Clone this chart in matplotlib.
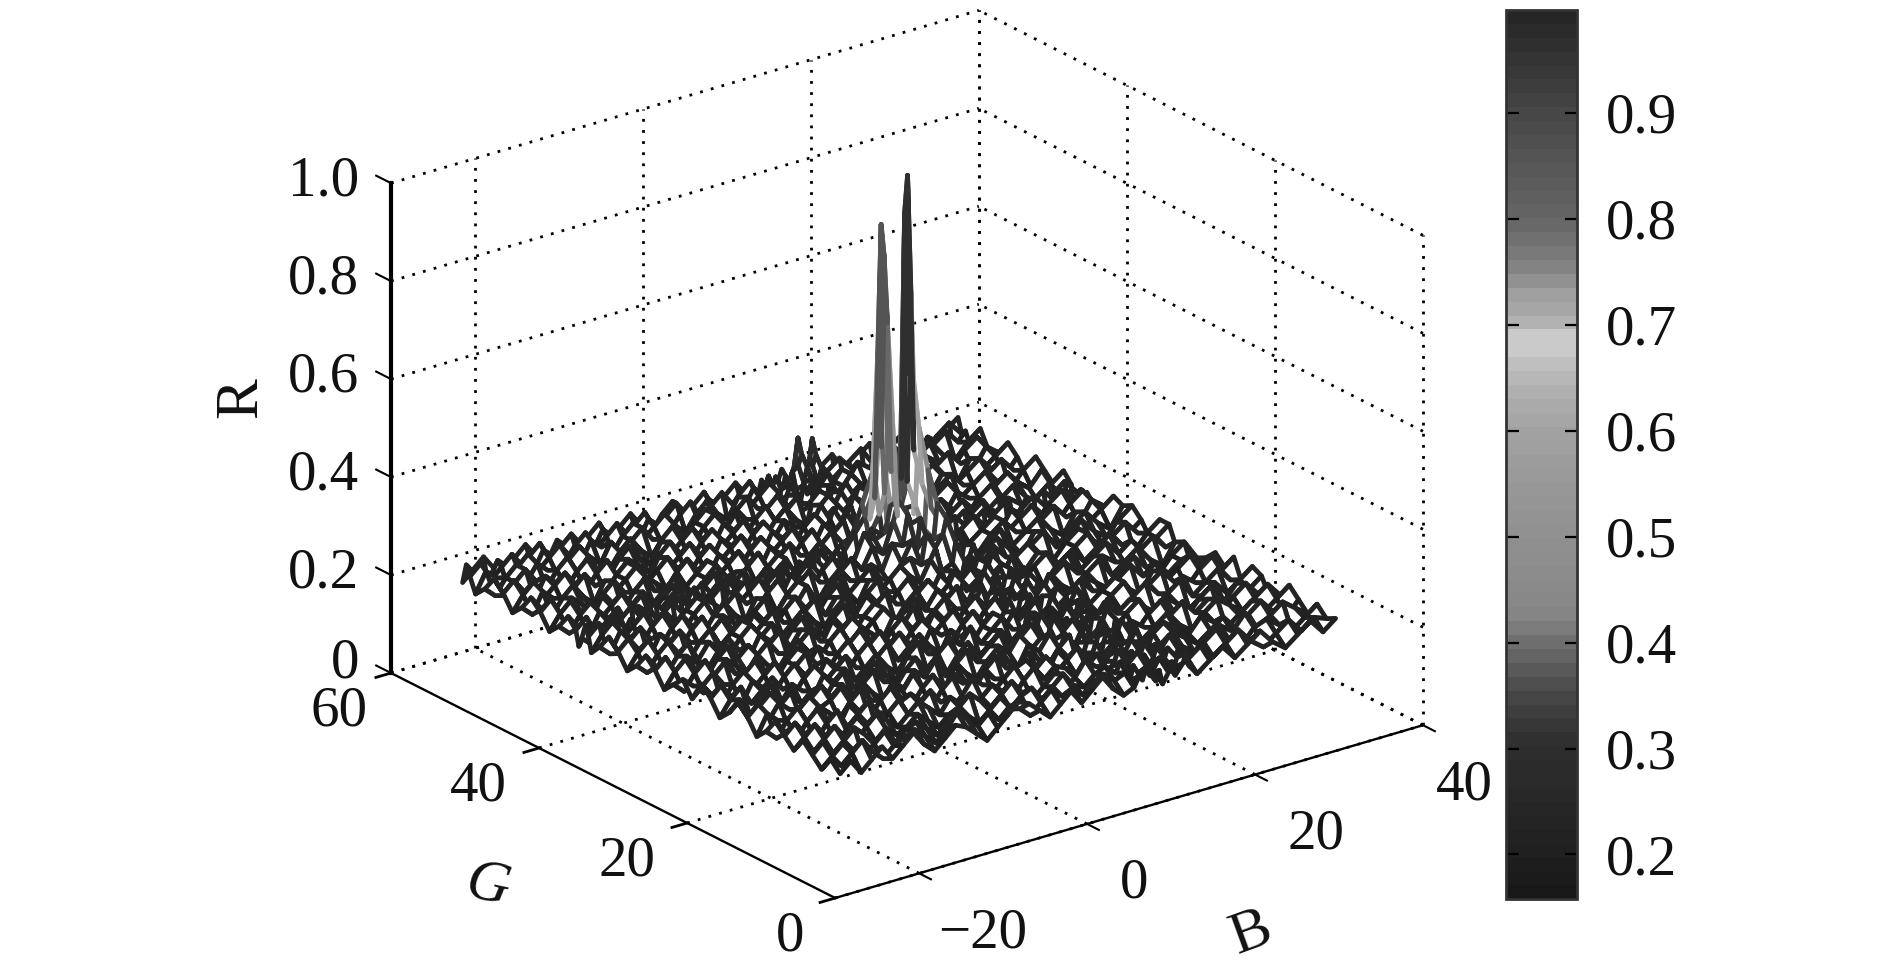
"""
Mesh of R over (B, G) with a grey colour bar.
"""

import numpy as np
import matplotlib
matplotlib.use("Agg")
import matplotlib.pyplot as plt
from matplotlib.cm import ScalarMappable
from matplotlib.colors import LinearSegmentedColormap, Normalize
from mpl_toolkits.mplot3d import proj3d

plt.rcParams['font.family'] = ['Liberation Serif', 'DejaVu Serif']

W, H = 1890, 976

b_ticks = [-20, 0, 20, 40]
g_ticks = [0, 20, 40, 60]
r_ticks = [0, 0.2, 0.4, 0.6, 0.8, 1.0]
r_tick_labels = ['0', '0.2', '0.4', '0.6', '0.8', '1.0']
bar_ticks = [0.2, 0.3, 0.4, 0.5, 0.6, 0.7, 0.8, 0.9]

# grid of the mesh, denser around the peaks
b_grid = [-25, -23.75, -22.5, -21.25, -20, -18.75, -17.5, -16.25, -15, -13.75, -12.5, -11.25,
          -10, -8.75, -7.5, -6.25, -5, -3.75, -2.5, -1.25, 0, 1.25, 2.5, 3.75, 5, 6.25, 7.5, 8.75, 10,
          10.6, 11, 11.4, 12.6, 13, 13.4, 14.1, 14.5, 14.9, 15.8, 16.2, 16.6,
          17.5, 19, 20.5, 22, 23.5, 25, 26.5, 28, 29.5, 31, 32.5, 34]
g_grid = [5, 6.25, 7.5, 8.75, 10, 11.25, 12.5, 13.75, 15, 16.25, 17.5, 18.75, 20, 21.25,
          22.5, 23.75, 25, 26.25, 27.5, 28.75, 30, 31.25, 32.5, 33.75, 35, 36.25, 37.5,
          38.6, 39, 39.4, 39.9, 40.3, 40.7,
          41.75, 43, 44.25, 45.5, 46.75, 48, 49.25, 50.5, 51.75, 53, 54.25, 55, 55.5, 56]

# R, in hundredths, one row per G value
r_percent = [
 [19,21,18,20,22,19,21,23,20,18,20,22,21,19,17,19,21,23,22,20,18,20,22,19,21,23,20,18,19, 21,20,22,19,21,18,20,22,19,21,23,20, 18,20,22,19,21,23,20,18,20,22,19,21],
 [21,19,21,23,20,18,20,21,22,20,18,20,23,21,19,21,19,21,20,18,20,22,20,21,19,21,22,20,21, 19,22,20,21,19,20,22,20,21,19,21,22, 20,22,19,21,23,20,18,20,22,19,21,20],
 [18,20,22,20,18,20,22,19,21,22,20,18,20,22,20,18,20,22,19,21,22,19,21,23,20,19,21,22,20, 22,19,21,23,20,22,19,21,23,20,22,19, 21,19,21,23,20,18,21,22,20,18,20,22],
 [20,22,19,21,23,21,19,21,19,20,22,20,18,20,21,23,21,19,21,23,20,18,20,22,18,20,23,21,19, 20,21,23,20,22,19,21,23,20,22,19,21, 23,20,18,21,22,20,23,19,21,23,21,19],
 [22,19,21,23,20,18,21,23,21,19,21,23,21,19,22,20,18,20,22,20,18,21,23,20,22,21,19,20,22, 18,20,21,23,19,21,23,20,22,19,21,23, 20,22,20,18,20,22,19,21,23,20,18,21],
 [19,21,23,20,18,20,22,20,18,21,23,19,21,23,20,18,20,23,21,19,21,23,19,21,23,19,21,23,20, 21,23,19,21,22,20,21,19,21,23,20,18, 21,23,21,19,22,20,18,20,22,19,21,23],
 [21,23,20,18,21,23,19,21,23,20,18,21,22,20,18,21,23,21,19,22,20,18,21,22,20,18,22,20,18, 20,22,20,18,21,23,19,22,20,18,21,23, 19,21,23,20,18,21,23,21,19,21,23,20],
 [23,20,18,21,23,20,18,22,20,18,21,23,20,18,21,23,19,22,20,18,21,23,20,18,22,20,18,21,23, 19,21,23,20,18,21,23,20,18,21,23,20, 22,20,18,21,23,20,22,18,21,23,20,18],
 [20,18,21,23,19,22,20,18,21,23,20,18,22,20,23,19,21,18,22,20,18,21,23,20,18,22,20,23,19, 22,20,18,21,23,20,18,21,23,20,18,22, 20,18,21,23,20,18,21,23,19,22,20,22],
 [18,22,20,18,21,23,20,21,23,19,22,20,18,21,19,22,20,23,19,21,23,20,18,22,20,23,19,21,18, 20,18,21,23,20,22,20,18,22,19,21,23, 18,21,23,19,22,20,18,20,22,19,21,23],
 [21,23,19,22,20,18,21,23,20,22,19,21,23,20,18,21,23,20,22,18,21,23,19,21,23,19,21,23,20, 18,21,23,19,22,18,21,23,20,22,19,21, 23,20,22,20,18,21,23,19,21,23,20,18],
 [23,19,21,23,20,22,19,21,18,21,23,19,21,23,20,18,22,20,18,21,23,19,21,18,20,22,19,21,23, 21,23,20,22,19,21,23,20,18,21,23,20, 18,22,19,21,23,20,18,22,20,18,21,23],
 [20,22,18,21,23,19,22,20,18,22,20,22,19,21,23,20,18,21,23,20,18,22,20,23,19,21,23,20,18, 23,19,22,20,18,22,19,21,23,20,18,22, 20,18,21,23,19,21,23,20,18,21,23,20],
 [18,21,23,19,21,23,20,18,21,23,19,21,23,20,18,21,23,19,21,23,20,18,22,20,18,21,23,19,22, 20,18,21,23,20,18,21,23,20,18,22,20, 23,19,21,23,20,18,22,19,21,23,20,22],
 [21,23,20,18,22,20,18,21,23,20,18,22,20,18,21,23,19,21,23,20,18,22,20,18,21,23,20,18,21, 23,20,18,21,23,20,18,22,19,21,23,19, 21,23,20,18,21,23,20,22,19,21,18,20],
 [23,20,18,21,23,19,21,23,19,21,23,20,18,21,23,19,21,23,20,18,21,23,19,21,23,20,18,21,23, 19,22,20,18,21,23,20,18,21,23,20,18, 21,19,22,20,18,21,23,20,18,21,23,19],
 [19,21,23,20,18,21,23,20,18,21,23,19,22,20,18,21,23,20,18,21,23,20,18,22,20,18,21,23,20, 18,21,23,19,22,20,18,21,23,20,22,19, 23,20,18,21,23,19,21,23,20,18,22,20],
 [22,20,18,21,23,20,18,22,20,18,21,23,20,18,21,23,19,22,20,18,22,20,23,19,21,23,20,18,21, 23,19,21,23,20,18,21,23,19,21,23,20, 18,21,23,20,18,22,20,18,21,23,20,18],
 [20,18,21,23,19,22,20,18,21,23,20,18,21,23,20,18,21,23,19,21,23,19,21,23,20,18,21,23,19, 21,23,20,18,21,23,19,22,20,18,21,23, 20,18,21,23,19,21,23,20,22,19,21,23],
 [18,21,23,20,18,21,23,20,22,19,21,23,19,22,20,18,22,20,18,21,23,20,18,21,23,19,22,20,18, 22,20,18,21,23,20,18,21,23,19,22,20, 18,21,23,20,22,19,21,23,20,18,21,23],
 [21,23,19,22,20,18,21,23,20,18,22,20,18,21,23,20,18,21,23,20,18,21,23,20,18,21,23,19,21, 23,19,21,23,20,18,21,23,20,18,22,20, 23,19,22,20,18,21,23,19,21,23,20,18],
 [23,20,18,21,23,19,22,20,18,21,23,20,22,19,21,23,20,18,21,23,19,22,20,18,21,23,20,18,22, 20,18,22,20,23,19,21,23,19,21,23,20, 18,21,23,20,18,21,23,20,18,22,19,21],
 [20,18,21,23,20,18,21,23,19,21,23,19,21,23,20,18,21,23,19,22,20,18,21,23,20,18,22,20,24, 26,23,21,22,26,24,20,18,22,20,18,21, 23,20,18,21,23,19,21,23,20,18,21,23],
 [18,21,23,19,21,23,20,18,21,23,20,18,22,20,18,21,23,20,18,21,23,20,18,22,19,21,23,24,22, 28,25,24,27,30,26,23,20,18,21,23,19, 21,23,20,18,22,20,18,21,23,20,18,22],
 [21,23,20,18,22,20,18,21,23,19,22,20,18,21,23,19,22,20,23,19,21,23,19,21,23,20,18,22,26, 24,30,27,25,32,28,21,23,20,18,22,20, 18,21,23,19,21,23,20,18,22,19,21,23],
 [23,19,21,23,20,18,21,23,20,18,21,23,20,18,22,20,18,21,23,20,18,21,23,20,18,22,20,25,24, 30,28,26,26,38,30,24,20,23,19,21,23, 20,18,21,23,20,18,21,23,20,18,22,20],
 [20,18,22,20,18,21,23,20,18,21,23,19,21,23,20,18,21,23,19,21,23,20,18,21,23,20,24,22,28, 32,26,30,30,46,34,25,22,18,21,23,20, 22,19,21,23,19,21,23,20,18,21,23,19],
 [18,21,23,19,21,23,20,22,19,21,23,20,18,22,19,21,23,20,18,22,20,18,21,23,19,21,26,24,25, 30,28,26,34,60,40,24,21,23,20,18,22, 19,21,23,20,18,22,20,18,21,23,19,21],
 [21,23,20,18,22,20,18,21,23,20,18,22,20,18,21,23,19,21,23,19,21,23,20,18,22,20,23,26,24, 26,30,28,45,96,72,30,23,20,18,21,23, 20,18,21,23,20,18,21,23,20,18,22,20],
 [23,19,21,23,19,21,23,19,21,23,20,18,21,23,20,18,21,23,20,18,22,20,18,21,23,19,21,24,28, 32,40,36,34,88,55,26,20,18,21,23,19, 21,23,20,18,21,23,19,21,23,20,18,21],
 [20,18,21,23,20,18,21,23,20,18,22,19,21,23,19,22,20,18,21,23,19,21,23,20,18,22,25,28,34, 50,80,66,26,42,30,24,23,20,18,22,20, 18,21,23,19,22,20,18,22,19,21,23,20],
 [18,22,20,18,21,23,20,18,21,23,20,23,19,21,23,20,18,21,23,20,18,22,20,18,21,23,24,30,36, 60,86,74,30,26,24,21,19,21,23,20,18, 21,23,20,18,21,23,20,18,21,23,20,18],
 [21,23,19,21,23,19,22,20,18,22,18,21,23,20,18,21,23,19,22,20,23,19,21,23,20,18,22,26,26, 30,52,40,26,24,21,23,20,18,21,23,19, 22,20,18,21,23,19,22,20,18,22,19,21],
 [23,20,18,22,20,18,21,23,19,21,23,20,18,21,23,19,22,20,18,21,23,20,18,21,23,20,18,22,24, 25,27,24,22,20,18,21,23,20,18,21,23, 20,18,21,23,20,18,21,23,20,18,21,23],
 [20,18,21,23,19,21,23,20,22,19,21,23,20,18,21,23,20,18,21,23,19,21,23,20,18,21,23,20,18, 21,23,20,18,21,23,19,21,23,20,18,22, 19,21,23,20,18,21,23,19,22,20,23,19],
 [18,21,23,20,18,22,20,18,21,23,20,18,22,19,21,23,19,21,23,20,18,22,20,18,21,23,19,21,23, 20,18,21,23,19,22,20,18,21,23,20,18, 21,23,20,18,22,20,18,21,23,20,18,21],
 [21,23,19,22,20,18,21,23,20,18,22,20,18,21,23,20,18,22,20,18,21,23,19,21,23,20,18,22,20, 18,21,23,20,18,21,23,20,18,22,19,21, 23,20,18,21,23,19,21,23,20,18,21,23],
 [23,20,18,21,23,20,18,22,19,21,23,19,21,23,20,18,21,23,19,21,23,20,18,22,20,18,21,23,19, 21,23,19,21,23,20,18,22,20,18,21,23, 20,18,22,19,21,23,20,18,21,23,20,18],
 [20,18,22,20,18,21,23,20,18,21,23,20,18,22,19,21,23,20,18,22,20,18,21,23,19,22,20,18,21, 23,20,18,22,20,18,21,23,19,21,23,20, 18,21,23,20,18,22,19,21,23,20,18,21],
 [18,21,23,19,21,23,20,18,21,23,19,22,20,18,21,23,20,18,21,23,19,21,23,20,18,21,23,20,18, 22,19,21,23,19,21,23,20,18,21,23,19, 21,23,20,18,21,23,20,18,22,19,21,23],
 [21,23,20,18,22,20,18,21,23,20,18,21,23,20,18,22,19,21,23,20,18,22,20,18,21,23,19,21,23, 20,18,21,23,20,18,22,19,21,23,20,18, 22,20,18,21,23,19,21,23,20,18,22,20],
 [23,19,21,23,20,18,21,23,19,22,20,18,21,23,20,18,21,23,20,18,21,23,19,22,20,18,21,23,20, 18,22,20,18,21,23,20,18,22,20,18,21, 23,19,21,23,20,18,22,20,18,21,23,19],
 [20,18,21,23,19,22,20,18,21,23,20,18,22,19,21,23,20,18,22,19,21,23,20,18,21,23,20,18,22, 19,21,23,19,22,20,23,19,21,23,19,21, 23,20,18,21,23,19,21,23,20,18,21,23],
 [18,22,20,18,21,23,19,21,23,20,18,22,20,18,21,23,19,21,23,20,18,21,23,20,18,22,19,21,23, 20,18,21,23,20,18,21,24,22,20,23,22, 20,18,22,20,18,21,23,19,21,23,20,18],
 [21,23,19,21,23,20,18,22,20,18,21,23,19,21,23,20,18,22,20,18,21,23,19,21,23,20,18,22,20, 18,21,23,19,21,23,24,26,24,23,25,23, 21,23,20,18,21,23,20,18,22,20,18,21],
 [23,20,18,22,20,18,21,23,19,21,23,20,18,22,20,18,21,23,19,21,23,20,18,22,20,18,21,23,19, 21,23,20,18,22,20,23,29,24,22,28,23, 20,18,21,23,19,21,23,20,18,21,23,20],
 [19,21,23,20,18,21,23,20,18,22,20,18,21,23,19,21,23,20,18,21,23,19,21,23,19,21,23,20,18, 22,20,18,21,23,19,21,23,20,18,22,19, 21,23,19,21,23,20,18,22,20,18,21,23],
]

# grey level of the colour bar, from low to high R
bar_values = [0.158, 0.2, 0.25, 0.3, 0.32, 0.35, 0.38, 0.40, 0.42, 0.46, 0.5, 0.55, 0.6,
              0.63, 0.66, 0.68, 0.70, 0.705, 0.73, 0.76, 0.8, 0.85, 0.9, 0.95, 0.997]
bar_greys = [0x18, 0x20, 0x28, 0x2e, 0x38, 0x48, 0x60, 0x70, 0x84, 0x8c, 0x90, 0x98, 0xa2,
             0xac, 0xbc, 0xcc, 0xc8, 0xac, 0xa0, 0x80, 0x66, 0x58, 0x48, 0x36, 0x26]

vmin, vmax = bar_values[0], bar_values[-1]
stops = [((v - vmin) / (vmax - vmin), (g / 255.0,) * 3) for v, g in zip(bar_values, bar_greys)]
cmap = LinearSegmentedColormap.from_list('grey_jet', stops, N=64)
norm = Normalize(vmin, vmax)

fig = plt.figure(figsize=(W / 100.0, H / 100.0), dpi=100, facecolor='white')
ax = fig.add_axes([0.1, 0.1, 0.5, 0.5 * W / H], projection='3d', proj_type='ortho')
ax.set_axis_off()
ax.computed_zorder = False
ax.patch.set_visible(False)
ax.view_init(elev=22.7, azim=-127.3)
ax.set_box_aspect((739, 733, 531))
ax.set_xlim(-30, 40, view_margin=0)
ax.set_ylim(0, 60, view_margin=0)
ax.set_zlim(0, 1, view_margin=0)

dotted = dict(color='black', lw=2.0, ls=(0, (1, 3)), zorder=1, clip_on=False)
for b in b_ticks:
    ax.plot([b, b], [0, 60], [0, 0], **dotted)
    ax.plot([b, b], [60, 60], [0, 1], **dotted)
for g in g_ticks:
    ax.plot([-30, 40], [g, g], [0, 0], **dotted)
    ax.plot([40, 40], [g, g], [0, 1], **dotted)
for r in r_ticks:
    ax.plot([-30, 40], [60, 60], [r, r], **dotted)
    ax.plot([40, 40], [0, 60], [r, r], **dotted)

B, G = np.meshgrid(b_grid, g_grid)
R = np.array(r_percent) / 100.0
surf = ax.plot_surface(B, G, R, rstride=1, cstride=1, color='white', shade=False,
                       linewidth=3.4, antialiased=True, zorder=2)
peak = np.max([R[:-1, :-1], R[1:, :-1], R[:-1, 1:], R[1:, 1:]], axis=0)
surf.set_edgecolors(cmap(norm(peak.ravel())))
surf.set_clip_on(False)

solid = dict(color='black', zorder=3, clip_on=False)
ax.plot([-30, -30], [60, 60], [0, 1], lw=3.0, **solid)
ax.plot([-30, -30], [0, 60], [0, 0], lw=1.7, **solid)
ax.plot([-30, 40], [0, 0], [0, 0], lw=1.7, **solid)
for b in b_ticks:
    ax.plot([b, b], [0, -1.6], [0, 0], lw=1.5, **solid)
for g in g_ticks:
    ax.plot([-30, -31.8], [g, g], [0, 0], lw=2.0, **solid)
for r in r_ticks:
    ax.plot([-30, -30], [60, 62], [r, r], lw=1.5, **solid)


def to_pixels(x, y, z):
    vx, vy, _ = proj3d.proj_transform(x, y, z, ax.get_proj())
    return ax.transData.transform((vx, vy))


# scale and shift the square axes so the box corners land where they belong
for _ in range(3):
    fig.canvas.draw()
    pos = ax.get_position()
    left = to_pixels(-30, 60, 0)
    right = to_pixels(40, 0, 0)
    k = (1423.0 - 391.0) / (right[0] - left[0])
    side = pos.width * W * k
    x0 = pos.x0 * W * k + 0
    y0 = pos.y0 * H * k
    ax.set_position([x0 / W, y0 / H, side / W, side / H])
    fig.canvas.draw()
    left = to_pixels(-30, 60, 0)
    pos = ax.get_position()
    ax.set_position([pos.x0 + (391.0 - left[0]) / W, pos.y0 + ((H - 673.0) - left[1]) / H,
                     pos.width, pos.height])
fig.canvas.draw()

text_style = dict(fontsize=41, color='#111111', ha='center', va='center')


def put_label(point, dx, dy, s, **kw):
    x, y = to_pixels(*point)
    style = dict(text_style)
    style.update(kw)
    fig.text((x + dx) / W, (y - dy) / H, s, **style)


for b, dx in zip(b_ticks, [63, 47, 61, 41]):
    put_label((b, 0, 0), dx, 60, str(b).replace('-', '\u2212'))
for g, dx in zip(g_ticks, [-45, -60, -61, -52]):
    put_label((-30, g, 0), dx, 38, str(g))
for r, s in zip(r_ticks, r_tick_labels):
    put_label((-30, 60, r), -32, -2 if r else -9, s, ha='right')

fig.text(241.0 / W, 1 - 398.0 / H, 'R', fontsize=44, color='#111111', rotation=90,
         ha='center', va='center')
fig.text(488.0 / W, 1 - 886.0 / H, 'G', fontsize=43, color='#111111', rotation=-12,
         style='italic', ha='center', va='center')
fig.text(1251.0 / W, 1 - 934.0 / H, 'B', fontsize=43, color='#111111', rotation=20,
         ha='center', va='center')

cax = fig.add_axes([1506.0 / W, 1 - 899.0 / H, 71.0 / W, 889.0 / H])
cbar = fig.colorbar(ScalarMappable(norm=norm, cmap=cmap), cax=cax)
cbar.set_ticks(bar_ticks)
cbar.set_ticklabels(['%.1f' % t for t in bar_ticks])
cbar.outline.set_edgecolor('#333333')
cbar.outline.set_linewidth(2.0)
cax.tick_params(axis='y', which='major', left=True, right=True, direction='in', length=9,
                width=1.6, color='black', labelsize=41, labelcolor='#111111', pad=21)
cax.minorticks_off()

fig.savefig('out.png', dpi=100, facecolor='white')
